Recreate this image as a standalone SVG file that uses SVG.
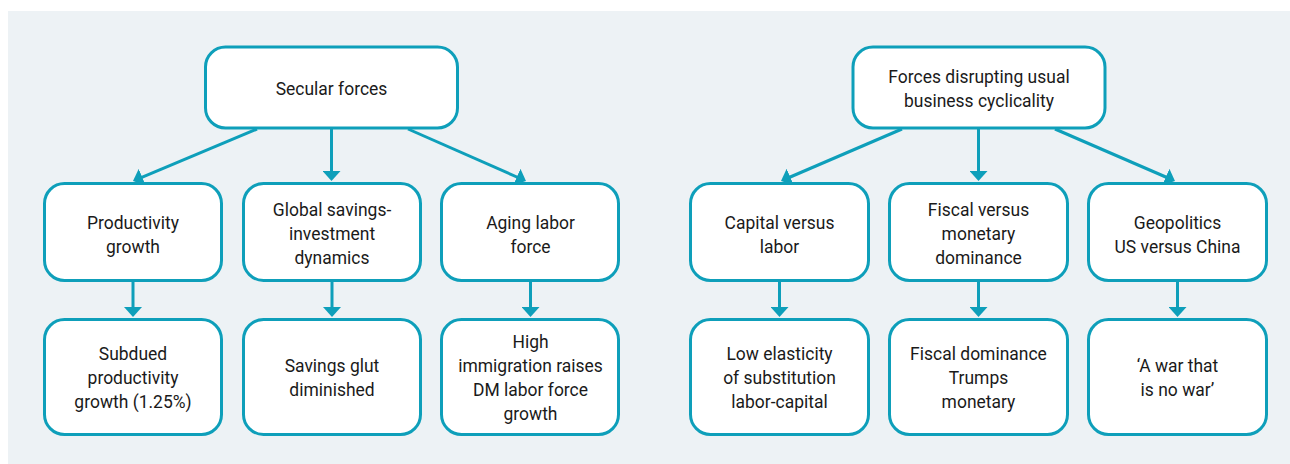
<svg xmlns="http://www.w3.org/2000/svg" width="1290" height="464" viewBox="0 0 1290 464">
<defs>
<style>
.box{fill:#ffffff;stroke:#0E9FBA;stroke-width:3}
.lbl{font-family:"Roboto","Liberation Sans",sans-serif;font-size:19px;fill:#1a1a1a;text-anchor:middle}
.edge{stroke:#0E9FBA;stroke-width:3;fill:none;marker-end:url(#ah)}
</style>
<marker id="ah" markerUnits="userSpaceOnUse" markerWidth="11" markerHeight="18" refX="5" refY="9" orient="auto" viewBox="0 0 11 18">
<path d="M0,0 L10,9 L0,18 z" fill="#0E9FBA"/>
</marker>
</defs>
<rect x="8" y="11" width="1282" height="453" fill="#EDF2F5"/>
<g id="connectors">
<path class="edge" d="M257,129 L137.6,179.1"/>
<path class="edge" d="M331.5,129 L331.5,176"/>
<path class="edge" d="M408,129 L521.4,179"/>
<path class="edge" d="M902,129 L785.6,179"/>
<path class="edge" d="M978.5,129 L978.5,176"/>
<path class="edge" d="M1055,129 L1170.4,179"/>
<path class="edge" d="M133,282 L133,312"/>
<path class="edge" d="M332,282 L332,312"/>
<path class="edge" d="M530.5,282 L530.5,312"/>
<path class="edge" d="M779.5,282 L779.5,312"/>
<path class="edge" d="M978.5,282 L978.5,312"/>
<path class="edge" d="M1177.5,282 L1177.5,312"/>
</g>
<g id="n-secular">
<rect class="box" x="205.5" y="47" width="252" height="81" rx="20"/>
<g transform="translate(331.5 0) scale(0.92 1)"><text class="lbl" x="0" y="95">Secular forces</text></g>
</g>
<g id="n-disrupt">
<rect class="box" x="853" y="47" width="252" height="81" rx="20"/>
<g transform="translate(979 0) scale(0.92 1)">
<text class="lbl" x="0" y="83">Forces disrupting usual</text>
<text class="lbl" x="0" y="107">business cyclicality</text>
</g>
</g>
<g id="n-prod">
<rect class="box" x="44.5" y="183.5" width="177" height="97" rx="20"/>
<g transform="translate(133 0) scale(0.92 1)">
<text class="lbl" x="0" y="229">Productivity</text>
<text class="lbl" x="0" y="253">growth</text>
</g>
</g>
<g id="n-savings">
<rect class="box" x="243.5" y="183.5" width="177" height="97" rx="20"/>
<g transform="translate(332 0) scale(0.92 1)">
<text class="lbl" x="0" y="216">Global savings-</text>
<text class="lbl" x="0" y="240">investment</text>
<text class="lbl" x="0" y="264">dynamics</text>
</g>
</g>
<g id="n-aging">
<rect class="box" x="441.5" y="183.5" width="177" height="97" rx="20"/>
<g transform="translate(530.5 0) scale(0.92 1)">
<text class="lbl" x="0" y="229">Aging labor</text>
<text class="lbl" x="0" y="253">force</text>
</g>
</g>
<g id="n-capital">
<rect class="box" x="690.5" y="183.5" width="178" height="97" rx="20"/>
<g transform="translate(779.5 0) scale(0.92 1)">
<text class="lbl" x="0" y="229">Capital versus</text>
<text class="lbl" x="0" y="253">labor</text>
</g>
</g>
<g id="n-fiscal">
<rect class="box" x="889.5" y="183.5" width="178" height="97" rx="20"/>
<g transform="translate(978.5 0) scale(0.92 1)">
<text class="lbl" x="0" y="216">Fiscal versus</text>
<text class="lbl" x="0" y="240">monetary</text>
<text class="lbl" x="0" y="264">dominance</text>
</g>
</g>
<g id="n-geo">
<rect class="box" x="1088.5" y="183.5" width="178" height="97" rx="20"/>
<g transform="translate(1177.5 0) scale(0.92 1)">
<text class="lbl" x="0" y="229">Geopolitics</text>
<text class="lbl" x="0" y="253">US versus China</text>
</g>
</g>
<g id="n-subdued">
<rect class="box" x="44.5" y="319.5" width="177" height="115" rx="20"/>
<g transform="translate(133 0) scale(0.92 1)">
<text class="lbl" x="0" y="360">Subdued</text>
<text class="lbl" x="0" y="384">productivity</text>
<text class="lbl" x="0" y="408">growth (1.25%)</text>
</g>
</g>
<g id="n-glut">
<rect class="box" x="243.5" y="319.5" width="177" height="115" rx="20"/>
<g transform="translate(332 0) scale(0.92 1)">
<text class="lbl" x="0" y="372">Savings glut</text>
<text class="lbl" x="0" y="396">diminished</text>
</g>
</g>
<g id="n-immig">
<rect class="box" x="441.5" y="319.5" width="177" height="115" rx="20"/>
<g transform="translate(530.5 0) scale(0.92 1)">
<text class="lbl" x="0" y="348">High</text>
<text class="lbl" x="0" y="372">immigration raises</text>
<text class="lbl" x="0" y="396">DM labor force</text>
<text class="lbl" x="0" y="420">growth</text>
</g>
</g>
<g id="n-elast">
<rect class="box" x="690.5" y="319.5" width="178" height="115" rx="20"/>
<g transform="translate(779.5 0) scale(0.92 1)">
<text class="lbl" x="0" y="360">Low elasticity</text>
<text class="lbl" x="0" y="384">of substitution</text>
<text class="lbl" x="0" y="408">labor-capital</text>
</g>
</g>
<g id="n-fdom">
<rect class="box" x="889.5" y="319.5" width="178" height="115" rx="20"/>
<g transform="translate(978.5 0) scale(0.92 1)">
<text class="lbl" x="0" y="360">Fiscal dominance</text>
<text class="lbl" x="0" y="384">Trumps</text>
<text class="lbl" x="0" y="408">monetary</text>
</g>
</g>
<g id="n-war">
<rect class="box" x="1088.5" y="319.5" width="178" height="115" rx="20"/>
<g transform="translate(1177.5 0) scale(0.92 1)">
<text class="lbl" x="0" y="372">‘A war that</text>
<text class="lbl" x="0" y="396">is no war’</text>
</g>
</g>
</svg>
